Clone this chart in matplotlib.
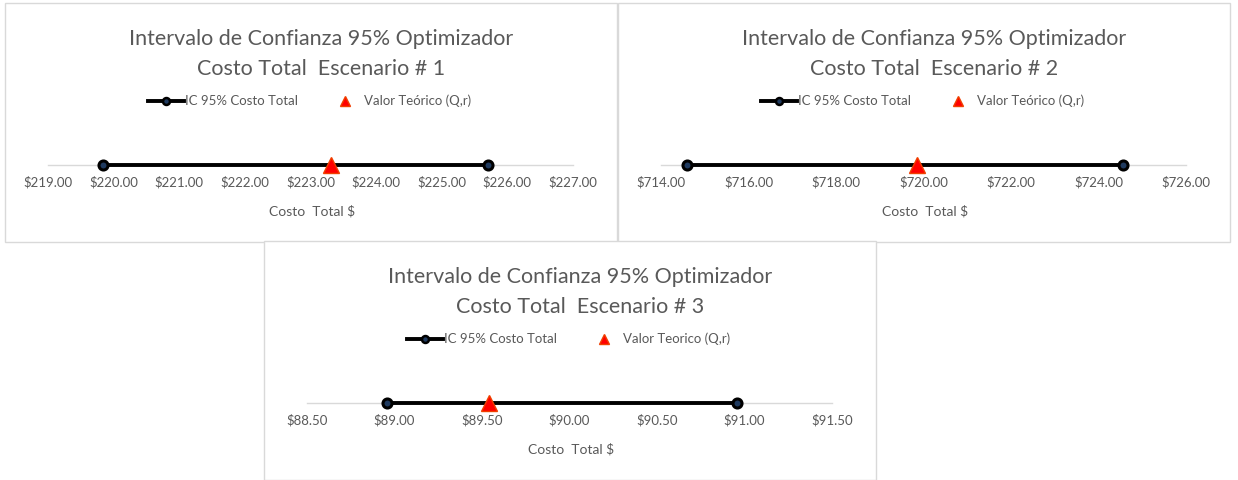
import matplotlib.pyplot as plt
from matplotlib.patches import Rectangle
from matplotlib.lines import Line2D
from matplotlib.ticker import MultipleLocator, FuncFormatter

plt.rcParams['font.family'] = ['Lato', 'DejaVu Sans']

# datos de los tres escenarios
escenarios = [1, 2, 3]
ic_inferior = [219.84, 714.59, 88.96]
ic_superior = [225.71, 724.56, 90.955]
valor_teorico = [223.31, 719.84, 89.54]
eje_min = [219, 714, 88.5]
eje_max = [227, 726, 91.5]
eje_paso = [1, 2, 0.5]
etiqueta_ic = 'IC 95% Costo Total'
etiqueta_teorico = ['Valor Teórico (Q,r)', 'Valor Teórico (Q,r)', 'Valor Teorico (Q,r)']

W, H = 1238, 480
fig = plt.figure(figsize=(W / 100, H / 100), dpi=100)

def fx(px):
    return px / W

def fy(py):
    return 1 - py / H

paneles = [(5, 3), (618, 3), (264, 241)]
PW, PH = 612, 239
gris = '#595959'

for i, (px, py) in enumerate(paneles):
    fig.patches.append(Rectangle((fx(px), fy(py + PH)), PW / W, PH / H,
                                 transform=fig.transFigure, facecolor='white',
                                 edgecolor='#D9D9D9', lw=1, zorder=-5))

    ax = fig.add_axes([fx(px + 43), fy(py + 162), 525 / W, 40 / H])
    ax.set_zorder(2)
    ax.patch.set_visible(False)
    ax.set_xlim(eje_min[i], eje_max[i])
    ax.set_ylim(0, 1)
    for s in ['top', 'left', 'right']:
        ax.spines[s].set_visible(False)
    ax.spines['bottom'].set_color('#D9D9D9')
    ax.spines['bottom'].set_linewidth(1)
    ax.set_yticks([])
    ax.xaxis.set_major_locator(MultipleLocator(eje_paso[i]))
    ax.xaxis.set_major_formatter(FuncFormatter(lambda v, p: f'${v:.2f}'))
    ax.tick_params(axis='x', length=0, pad=8, labelsize=9.5, labelcolor=gris)

    ax.plot([ic_inferior[i], ic_superior[i]], [0, 0], color='black', lw=2.8,
            marker='o', ms=6.5, mfc='#1F3A5F', mec='black', mew=2.2,
            clip_on=False, zorder=3)
    ax.plot([valor_teorico[i]], [0], marker='^', ls='none', color='#FF0000',
            mec='#F04000', ms=12, clip_on=False, zorder=4)

    fig.text(fx(px + 316), fy(py + 36), 'Intervalo de Confianza 95% Optimizador',
             ha='center', va='center', fontsize=15.5, color=gris)
    fig.text(fx(px + 316), fy(py + 66), f'Costo Total  Escenario # {escenarios[i]}',
             ha='center', va='center', fontsize=15.5, color=gris)
    fig.text(fx(px + 307), fy(py + 208), 'Costo  Total $',
             ha='center', va='center', fontsize=10, color=gris)

    handles = [
        Line2D([], [], color='black', lw=2.8, marker='o', ms=5, mfc='#1F3A5F',
               mec='black', mew=1.8),
        Line2D([], [], ls='none', marker='^', color='#FF0000', mec='#F04000', ms=7),
    ]
    ax.legend(handles, [etiqueta_ic, etiqueta_teorico[i]], loc='center',
              bbox_to_anchor=(fx(px + 305), fy(py + 98)),
              bbox_transform=fig.transFigure, ncol=2, frameon=False,
              fontsize=9.5, handlelength=2.7, handletextpad=0.1,
              columnspacing=2.2, labelcolor=gris)

fig.savefig('out.png', dpi=100)
